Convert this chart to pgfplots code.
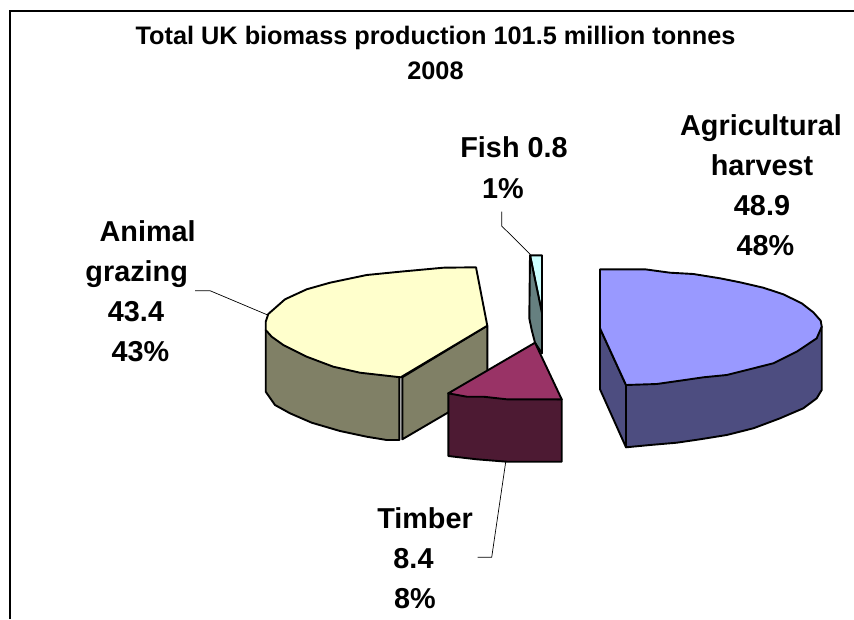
\documentclass[border=0pt]{standalone}
\usepackage{fontspec}
\setmainfont{Liberation Sans}
\usepackage{pgfplots}
\pgfplotsset{compat=1.18}

\definecolor{agritop}{HTML}{9999FF}
\definecolor{agriside}{HTML}{4D4D80}
\definecolor{grazetop}{HTML}{FFFFCC}
\definecolor{grazeside}{HTML}{808066}
\definecolor{timbertop}{HTML}{993366}
\definecolor{timberside}{HTML}{4D1A33}
\definecolor{fishtop}{HTML}{CCFFFF}
\definecolor{fishside}{HTML}{668080}

\newcommand{\titlelab}[3]{\node[anchor=base,inner sep=0pt,font=\fontsize{25.3}{25.3}\bfseries\selectfont] at (axis cs:#1,#2) {#3};}
\newcommand{\lab}[3]{\node[anchor=base,inner sep=0pt,font=\fontsize{28.8}{28.8}\bfseries\selectfont] at (axis cs:#1,#2) {#3};}

\begin{document}
\begin{tikzpicture}
\useasboundingbox (0,0) rectangle (854pt,619pt);
\begin{axis}[
  at={(0,0)}, anchor=south west,
  scale only axis, width=854pt, height=619pt,
  xmin=0, xmax=854, ymin=0, ymax=619, y dir=reverse,
  hide axis, clip=true,
  every axis plot/.append style={line width=1.9pt, line join=round, draw=black},
]
% frame, open on the right and at the bottom
\addplot[line width=2pt, line join=miter] coordinates {(9.5,619) (9.5,11) (854,11)};

% animal grazing
\addplot[fill=grazeside] coordinates {
  (402.3,377.3) (487.3,325.7) (487.3,388) (446.7,413.3) (402.3,439.3)} -- cycle;
\addplot[fill=grazeside] coordinates {
  (265.7,330) (265.7,391.7) (275,405) (290,413.3) (311.7,422.7) (340,431)
  (366.7,436.7) (386.7,440) (399.3,440) (399.3,377.3)} -- cycle;
\addplot[fill=grazetop] coordinates {
  (476,267.3) (487.3,325.7) (400.7,377.3) (360,372.7) (333.3,366.7) (306.7,356.7)
  (283.3,345) (271.7,336.7) (265.7,330) (265.7,321.7) (268.3,314) (285,299.3)
  (306.7,289.3) (330,282.7) (366.7,275) (400,271.7) (443.3,267.7)} -- cycle;

% fish
\addplot[fill=fishtop] coordinates {(530,255.3) (542,255.3) (542,313.3)} -- cycle;
\addplot[fill=fishside] coordinates {
  (530,255.3) (542,313.3) (542,353.3) (535,342.7) (531.7,330) (529.3,318.3)} -- cycle;

% timber
\addplot[fill=timberside] coordinates {
  (448.3,393.3) (448.3,456) (476.7,459.3) (506.7,461.7) (561.7,461.7) (561.7,399.3)} -- cycle;
\addplot[fill=timbertop] coordinates {
  (535,342.7) (561.7,399.3) (506.7,399.3) (483.3,396.7) (466.7,396.7) (448.3,393.3)} -- cycle;

% agricultural harvest
\addplot[fill=agriside] coordinates {(600,328.3) (600,389.3) (626,447.3) (626,385)} -- cycle;
\addplot[fill=agriside] coordinates {
  (626,385) (626,447.3) (650,445) (676.7,442.7) (700,439.3) (726.7,435) (753.3,428.3)
  (780,418.3) (803.3,408.3) (816.7,398.3) (821.7,390) (821.7,326.7)} -- cycle;
\addplot[fill=agritop] coordinates {
  (600,269.3) (645,269.3) (670,272.7) (693.3,274) (720,278.3) (740,282.3) (763.3,287.7)
  (783.3,294.3) (801.7,303.3) (813.3,312.3) (820.7,320.7) (821.7,326.7) (816.7,338.3)
  (796.7,351.7) (773.3,363.3) (746.7,370) (726.7,375) (703.3,377.3) (680,380.7)
  (656.7,384) (626,385) (600,328.3)} -- cycle;

% leader lines
\addplot[line width=0.7pt] coordinates {(195,290.7) (210,290.7) (267.7,315)};
\addplot[line width=0.7pt] coordinates {(501.7,211.7) (501.7,226) (530.5,254.5)};
\addplot[line width=0.7pt] coordinates {(477.7,557.3) (491.7,557.3) (505.7,462)};

\titlelab{435.5}{44}{Total UK biomass production 101.5 million tonnes}
\titlelab{435.5}{79}{2008}

\lab{761}{135}{Agricultural}
\lab{762}{175}{harvest}
\lab{762}{215}{48.9}
\lab{765.5}{255}{48\%}

\lab{514}{157}{Fish 0.8}
\lab{503}{198}{1\%}

\lab{147.7}{241.7}{Animal}
\lab{136.7}{281.7}{grazing}
\lab{136}{321.7}{43.4}
\lab{140.5}{361.7}{43\%}

\lab{425}{528}{Timber}
\lab{413.5}{568}{8.4}
\lab{415}{608}{8\%}
\end{axis}
\end{tikzpicture}
\end{document}
